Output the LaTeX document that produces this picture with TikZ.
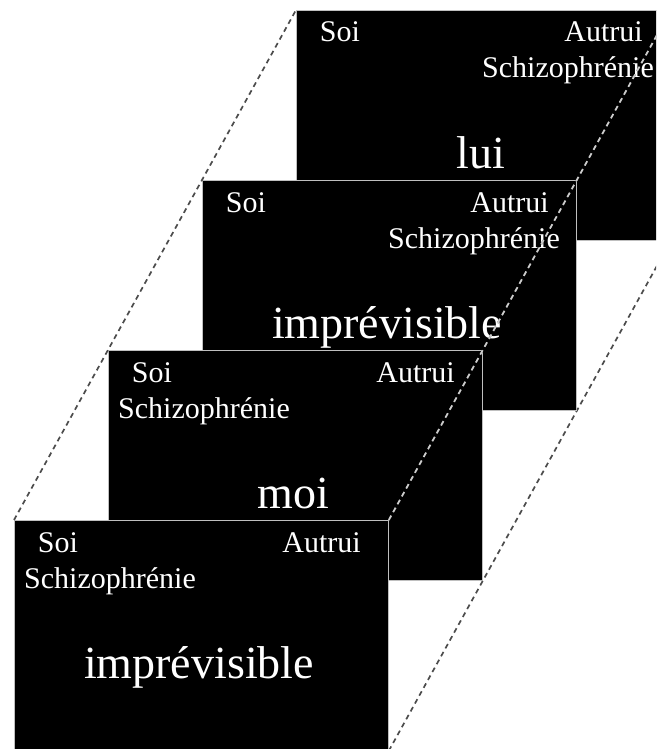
\documentclass[tikz,border=0pt]{standalone}
\usepackage{fontspec}
\setmainfont{Liberation Serif}
\begin{document}
\begin{tikzpicture}[x=1pt,y=-1pt,
  panel/.style={draw=white!75!black, line width=0.8pt, fill=black,
    minimum width=374pt, minimum height=230pt, inner sep=0pt, anchor=north west},
  small/.style={text=white, font=\fontsize{30}{36}\selectfont, inner sep=0pt},
  big/.style={text=white, font=\fontsize{46}{55}\selectfont, inner sep=0pt},
  guide/.style={dash pattern=on 5pt off 4pt, line width=1.7pt}]
\useasboundingbox (0,0) rectangle (656,749);
\clip (0,0) rectangle (656,749);
% panel 4 (back)
\node[panel] (p4) at (296,10) {};
\node[small, anchor=base] (s4) at (340,42) {Soi};
\node[small, anchor=base east] (a4) at (643,42) {Autrui};
\node[small, anchor=base east] (z4) at (654,78) {Schizophrénie};
\node[big, anchor=base] (b4) at (481,168) {lui};
% panel 3
\node[panel] (p3) at (202,180) {};
\node[small, anchor=base] (s3) at (246,212) {Soi};
\node[small, anchor=base east] (a3) at (549,212) {Autrui};
\node[small, anchor=base east] (z3) at (560,248) {Schizophrénie};
\node[big, anchor=base] (b3) at (387,338) {imprévisible};
% panel 2
\node[panel] (p2) at (108,350) {};
\node[small, anchor=base] (s2) at (152,382) {Soi};
\node[small, anchor=base east] (a2) at (455,382) {Autrui};
\node[small, anchor=base west] (z2) at (118,418) {Schizophrénie};
\node[big, anchor=base] (b2) at (293,508) {moi};
% panel 1 (front)
\node[panel] (p1) at (14,520) {};
\node[small, anchor=base] (s1) at (58,552) {Soi};
\node[small, anchor=base east] (a1) at (361,552) {Autrui};
\node[small, anchor=base west] (z1) at (24,588) {Schizophrénie};
\node[big, anchor=base] (b1) at (199,678) {imprévisible};
% dashed guides
\draw[guide, draw=black!70] (p1.north west) -- (p4.north west);
\draw[guide, draw=black!70] (p1.north east) -- (p4.north east);
\draw[guide, draw=black!70] (p1.south east) -- (p4.south east);
\begin{scope}
  \clip (p1.north west) rectangle (p1.south east)
        (p2.north west) rectangle (p2.south east)
        (p3.north west) rectangle (p3.south east)
        (p4.north west) rectangle (p4.south east);
  \draw[guide, draw=white!80!black] (p1.north east) -- (p4.north east);
  \draw[guide, draw=white!80!black] (p1.south east) -- (p4.south east);
\end{scope}
\end{tikzpicture}
\end{document}
